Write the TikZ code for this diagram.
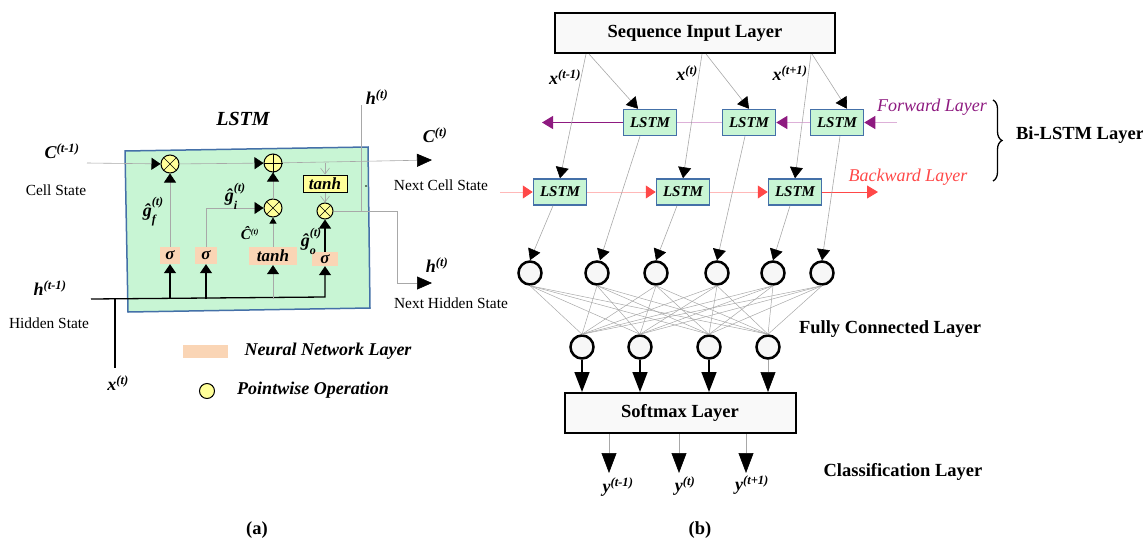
\documentclass[tikz,border=0pt]{standalone}
\usepackage{fontspec}
\setmainfont{Liberation Serif}
\usetikzlibrary{arrows.meta,calc,decorations.pathreplacing}
\definecolor{cellgreen}{HTML}{C8F5D4}
\definecolor{cellblue}{HTML}{4470A8}
\definecolor{peach}{HTML}{FAD5B5}
\definecolor{pwyellow}{HTML}{FFFF99}
\definecolor{fwpurple}{HTML}{8E1A80}
\definecolor{fwlight}{HTML}{DDB0D8}
\definecolor{bwred}{HTML}{FF4848}
\definecolor{bwlight}{HTML}{FFB8B8}
\definecolor{wirec}{HTML}{A8A8A8}
\definecolor{neurfill}{HTML}{F7F7F7}
\newcommand\supsubx[2]{\rlap{\raisebox{-0.4em}{\fontsize{12}{12}\selectfont #2}}\raisebox{0.6em}{\fontsize{12}{12}\selectfont #1}}
\tikzset{
  bfont/.style={font=\fontsize{18.5}{21}\selectfont\bfseries},
  bifont/.style={font=\fontsize{18}{21}\selectfont\bfseries\itshape},
  rmfont/.style={font=\fontsize{15.4}{18}\selectfont},
  txt/.style={inner sep=0pt},
  wire/.style={draw=wirec, line width=0.6pt},
  cellbox/.style={draw=cellblue, line width=1.5pt, fill=cellgreen},
  nnl/.style={fill=peach, inner sep=0pt, font=\fontsize{17}{17}\selectfont\bfseries\itshape},
  pw/.style={circle, draw, fill=pwyellow, line width=1pt, inner sep=0pt, minimum size=18pt},
  lstmbox/.style={draw=cellblue, line width=1.5pt, fill=cellgreen, minimum width=53pt, minimum height=26pt, inner sep=0pt, font=\fontsize{15}{15}\selectfont\bfseries\itshape},
  neuron/.style={circle, draw, line width=2.5pt, fill=neurfill, minimum size=23pt, inner sep=0pt},
  layerbox/.style={draw, line width=2pt, fill=gray!5, inner sep=0pt, font=\fontsize{18.5}{21}\selectfont\bfseries},
  tipS/.style={-{Triangle[length=9pt,width=12pt,color=black]}},
  tipT/.style={-{Triangle[length=6pt,width=7pt,color=black]}},
  tipL/.style={-{Triangle[length=15pt,width=13pt,color=black]}},
  tipB/.style={-{Triangle[length=11pt,width=13pt,color=black]}},
  tipBig/.style={-{Triangle[length=20pt,width=15pt,color=black]}},
  openarr/.style={-{Straight Barb[length=6pt,width=9pt]}},
}
\begin{document}
\begin{tikzpicture}[x=1pt,y=-1pt]
\useasboundingbox (0,0) rectangle (1143,541);
% ---------------- (a) LSTM cell ----------------
\draw[cellbox] (125,151) -- (368,147) -- (370,308) -- (128,312) -- cycle;
\node[txt, font=\fontsize{20}{22}\selectfont\bfseries\itshape] (title) at (243,119) {LSTM};
\node[pw] (mf) at (170,164) {};
\node[pw] (pl) at (273,163) {};
\node[pw] (mi) at (273,208) {};
\node[pw, minimum size=16pt] (mo) at (325,211) {};
\foreach \n in {mf,mi,mo} \draw (\n.north east) -- (\n.south west) (\n.north west) -- (\n.south east);
\draw (pl.north) -- (pl.south) (pl.east) -- (pl.west);
\node[nnl, minimum width=20pt, minimum height=17pt] (s1) at (170,255.5) {σ};
\node[nnl, minimum width=22pt, minimum height=17pt] (s2) at (206,255.5) {σ};
\node[nnl, minimum width=48pt, minimum height=18pt] (th) at (273,256) {tanh};
\node[nnl, minimum width=26pt, minimum height=14pt] (s3) at (325,259) {σ};
\node[draw, fill=pwyellow, line width=1pt, minimum width=44pt, minimum height=17pt, inner sep=0pt, font=\fontsize{17}{17}\selectfont\bfseries\itshape] (ty) at (325,183.5) {tanh};
\coordinate (cin) at (87,163);
\coordinate (cout) at (432,160);
\coordinate (hin) at (91,299);
\coordinate (hcorner) at (325,297);
\coordinate (xtop) at (115,299);
\coordinate (xbot) at (115,368);
\coordinate (hout) at (432,283);
\coordinate (htop) at (361,105);
\draw[wire,tipS] (cin) -- (mf);
\draw[wire,tipS] (mf) -- (pl);
\draw[wire,tipL] (pl) -- (cout);
\draw[wire,tipS] (s1) -- (mf);
\draw[wire,tipS] (s2.north) |- (mi);
\draw[wire,tipT] (th) -- (mi);
\draw[wire,tipS] (mi) -- (pl);
\draw[wire,openarr] (ty.north |- pl) -- (ty);
\draw[wire,openarr] (ty) -- (mo);
\draw[line width=1.3pt,tipS] (s3) -- (mo);
\draw[line width=1.3pt,tipS] (hin) -- (hcorner) -- (s3.south);
\draw[line width=1.3pt,tipS] (s1.south |- hin) -- (s1.south);
\draw[line width=1.3pt,tipS] (s2.south |- hin) -- (s2.south);
\draw[wire,tipS] (th.south |- hin) -- (th.south);
\draw[line width=1.3pt] (xtop) -- (xbot);
\draw[wire,tipL] (mo) -- ++(72,0) |- (hout);
\draw[wire] (htop) -- (htop |- mo);
\fill (366,186) circle (0.8);
% labels (a)
\node[txt,bifont] (lc1) at (62,151) {C\textsuperscript{(t-1)}};
\node[txt,rmfont] (lcs) at (56,190) {Cell State};
\node[txt,bifont] (lh1) at (50,288) {h\textsuperscript{(t-1)}};
\node[txt,rmfont] (lhs) at (49,323) {Hidden State};
\node[txt,bifont] (lx) at (118,383) {x\textsuperscript{(t)}};
\node[txt,bifont] (lgf) at (153,212) {ĝ\supsubx{(t)}{f}};
\node[txt,bifont] (lgi) at (235,196) {ĝ\supsubx{(t)}{i}};
\node[txt,font=\fontsize{15}{15}\selectfont\bfseries\itshape] (lct) at (250,233) {Ĉ\textsuperscript{\fontsize{8}{8}\selectfont(t)}};
\node[txt,bifont] (lgo) at (311,241) {ĝ\supsubx{(t)}{o}};
\node[txt,bifont] (lht) at (377,97) {h\textsuperscript{(t)}};
\node[txt,bifont] (lct2) at (435,135) {C\textsuperscript{(t)}};
\node[txt,rmfont] (lncs) at (441,185) {Next Cell State};
\node[txt,bifont] (lht2) at (437,265) {h\textsuperscript{(t)}};
\node[txt,rmfont] (lnhs) at (451,303) {Next Hidden State};
% legend
\node[fill=peach, minimum width=45pt, minimum height=13pt, inner sep=0pt] (lg1) at (205.5,351.5) {};
\node[txt,font=\fontsize{18}{18}\selectfont\bfseries\itshape] (lg1t) at (328,351) {Neural Network Layer};
\node[pw, minimum size=15pt] (lg2) at (207,391) {};
\node[txt,font=\fontsize{18}{18}\selectfont\bfseries\itshape] (lg2t) at (313,390) {Pointwise Operation};
\node[txt,bfont] (capa) at (257,530) {(a)};
% ---------------- (b) Bi-LSTM network ----------------
\node[layerbox, minimum width=280pt, minimum height=40pt] (seq) at (695,33) {Sequence Input Layer};
\node[lstmbox] (F1) at (650,122.5) {LSTM};
\node[lstmbox] (F2) at (749,122.5) {LSTM};
\node[lstmbox] (F3) at (837,122.5) {LSTM};
\node[lstmbox] (B1) at (560,192) {LSTM};
\node[lstmbox] (B2) at (683,192) {LSTM};
\node[lstmbox] (B3) at (795,192) {LSTM};
\coordinate (fl) at (542,122.5);
\coordinate (fr) at (897,122.5);
\coordinate (bl) at (500,192);
\coordinate (br) at (878,192);
\draw[fwpurple, line width=1pt, -{Triangle[length=11pt,width=13pt]}] (F1.west) -- (fl);
\draw[fwlight, line width=1pt] (F2.west) -- (F1.east);
\draw[fwlight, line width=1pt, -{Triangle[length=11pt,width=13pt,color=fwpurple]}] (F3.west) -- (F2.east);
\draw[fwlight, line width=1pt, -{Triangle[length=11pt,width=13pt,color=fwpurple]}] (fr) -- (F3.east);
\draw[bwlight, line width=1pt, -{Triangle[length=10pt,width=13pt,color=bwred]}] (bl) -- (B1.west);
\draw[bwlight, line width=1pt, -{Triangle[length=10pt,width=13pt,color=bwred]}] (B1.east) -- (B2.west);
\draw[bwlight, line width=1pt, -{Triangle[length=10pt,width=13pt,color=bwred]}] (B2.east) -- (B3.west);
\draw[bwred, line width=1pt, -{Triangle[length=11pt,width=13pt]}] (B3.east) -- (br);
\draw[wire,tipB] ($(seq.south west)+(35,0)$) -- ($(F1.north)+(-12,0)$);
\draw[wire,tipB] ($(seq.south west)+(32,0)$) -- (B1.north);
\draw[wire,tipB] ($(seq.south west)+(152,0)$) -- (F2.north);
\draw[wire,tipB] ($(seq.south west)+(148,0)$) -- (B2.north);
\draw[wire,tipB] ($(seq.south west)+(258,0)$) -- ($(F3.north)+(10,0)$);
\draw[wire,tipB] ($(seq.south west)+(257,0)$) -- (B3.north);
\node[txt,bifont] (lx1) at (565,77) {x\textsuperscript{(t-1)}};
\node[txt,bifont] (lx2) at (687,73) {x\textsuperscript{(t)}};
\node[txt,bifont] (lx3) at (790,73) {x\textsuperscript{(t+1)}};
\node[txt,font=\fontsize{18}{21}\selectfont\itshape, text=fwpurple] (lfw) at (932,107) {Forward Layer};
\node[txt,font=\fontsize{18}{21}\selectfont\itshape, text=bwred] (lbw) at (908,177) {Backward Layer};
\draw[decorate, decoration={brace, amplitude=9pt}, line width=1.3pt] (993,100) -- (993,181);
\node[txt,bfont] (lbi) at (1080,135) {Bi-LSTM Layer};
% neurons
\node[neuron] (c1) at (530,273) {};
\node[neuron] (c2) at (597,273) {};
\node[neuron] (c3) at (656,273) {};
\node[neuron] (c4) at (717,273) {};
\node[neuron] (c5) at (773,273) {};
\node[neuron] (c6) at (822,273) {};
\node[neuron] (d1) at (582,347) {};
\node[neuron] (d2) at (640,347) {};
\node[neuron] (d3) at (709,347) {};
\node[neuron] (d4) at (768,347) {};
\draw[wire,tipB] ($(B1.south)+(-7,0)$) -- (c1.north);
\draw[wire,tipB] ($(F1.south)+(-10,0)$) -- ($(c2.north)+(3,0)$);
\draw[wire,tipB] ($(B2.south)+(-6,0)$) -- (c3.north);
\draw[wire,tipB] ($(F2.south)+(-4,0)$) -- (c4.north);
\draw[wire,tipB] ($(B3.south)+(-5,0)$) -- (c5.north);
\draw[wire,tipB] ($(F3.south)+(3,0)$) -- (c6.north);
\foreach \i in {1,...,6} \foreach \j in {1,...,4} \draw[wire, line width=0.5pt] (c\i.south) -- (d\j.north);
\node[txt,bfont] (lfc) at (890,329) {Fully Connected Layer};
\node[layerbox, minimum width=231pt, minimum height=40pt] (soft) at (680,413) {Softmax Layer};
\foreach \j in {1,2,3} \draw[line width=1.5pt,tipBig] (d\j.south) -- (d\j.south |- soft.north);
\draw[wire,tipBig] (d4.south) -- (d4.south |- soft.north);
\coordinate (y1) at (609,473);
\coordinate (y2) at (679,473);
\coordinate (y3) at (746,473);
\foreach \k in {1,2,3} \draw[wire,tipBig] (soft.south -| y\k) -- (y\k);
\node[txt,bifont] (ly1) at (618,487) {y\textsuperscript{(t-1)}};
\node[txt,bifont] (ly2) at (685,486) {y\textsuperscript{(t)}};
\node[txt,bifont] (ly3) at (752,485) {y\textsuperscript{(t+1)}};
\node[txt,bfont] (lcl) at (903,472) {Classification Layer};
\node[txt,bfont] (capb) at (700,530) {(b)};
\end{tikzpicture}
\end{document}
